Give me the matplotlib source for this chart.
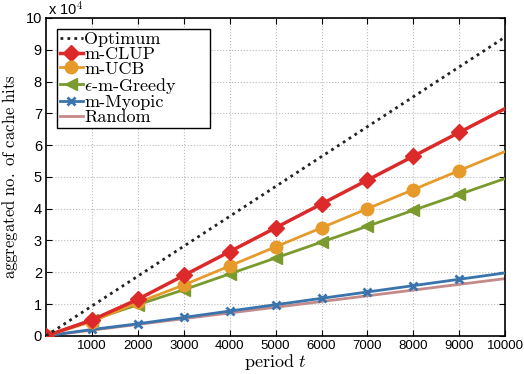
import numpy as np
import matplotlib
matplotlib.use("Agg")
import matplotlib.pyplot as plt

plt.rcParams['mathtext.fontset'] = 'cm'
plt.rcParams['font.family'] = ['Liberation Sans', 'DejaVu Sans']

period = [0, 1000, 2000, 3000, 4000, 5000, 6000, 7000, 8000, 9000, 10000]
optimum = [0, 0.94, 1.88, 2.82, 3.76, 4.70, 5.64, 6.58, 7.52, 8.46, 9.40]
clup = [0, 0.50, 1.15, 1.90, 2.65, 3.40, 4.15, 4.90, 5.65, 6.40, 7.15]
ucb = [0, 0.45, 1.05, 1.60, 2.20, 2.80, 3.40, 4.00, 4.60, 5.20, 5.80]
greedy = [0, 0.50, 0.98, 1.45, 1.95, 2.45, 2.95, 3.45, 3.95, 4.45, 4.95]
myopic = [0, 0.20, 0.38, 0.58, 0.78, 0.98, 1.18, 1.38, 1.58, 1.78, 1.98]
rand = [0, 0.18, 0.36, 0.54, 0.72, 0.90, 1.08, 1.26, 1.44, 1.62, 1.80]

fig = plt.figure(figsize=(5.24, 3.74), dpi=100)
ax = fig.add_axes([0.088, 0.102, 0.876, 0.850])

sc = 1e4
x = np.array(period)
mk = slice(0, 10)
ax.plot(x, np.array(rand) * sc, color='#c48a8a', lw=2, label='Random', zorder=2)
ax.plot(x, np.array(myopic) * sc, color='#3a74ad', lw=2, marker='x', ms=6, mew=2,
        markevery=mk, label='m-Myopic', zorder=3)
ax.plot(x, np.array(greedy) * sc, color='#7a9a2e', lw=2, marker='<', ms=9,
        markevery=mk, label=r'$\epsilon$-m-Greedy', zorder=4)
ax.plot(x, np.array(ucb) * sc, color='#e69a2a', lw=2, marker='o', ms=9,
        markevery=mk, label='m-UCB', zorder=5)
ax.plot(x, np.array(clup) * sc, color='#dc2a2a', lw=2.5, marker='D', ms=8,
        markevery=mk, label='m-CLUP', zorder=6)
ax.plot(x, np.array(optimum) * sc, color='#222222', lw=2, ls=(0, (1, 1.5)),
        label='Optimum', zorder=7)

ax.set_xlim(0, 10000)
ax.set_ylim(0, 1e5)
ax.set_xticks(range(1000, 10001, 1000))
ax.set_yticks(np.arange(0, 1.01e5, 1e4))
ax.set_yticklabels([str(i) for i in range(11)])
ax.tick_params(direction='in', top=True, right=True, labelsize=9.5, length=4, pad=3)
ax.tick_params(axis='y', labelsize=10.5)
ax.grid(True, ls=':', color='#bbbbbb', lw=0.8)
ax.text(0.005, 1.0, r'x 10$^4$', transform=ax.transAxes, fontsize=10.5, va='bottom')
for s in ax.spines.values():
    s.set_linewidth(1.2)

ax.set_xlabel(r'$\mathrm{period}\ t$', fontsize=13, labelpad=0)
ax.set_ylabel(r'$\mathrm{aggregated\ no.\ of\ cache\ hits}$', fontsize=12, labelpad=4)

h, l = ax.get_legend_handles_labels()
order = [5, 4, 3, 2, 1, 0]
labels = [l[i] for i in order]
labels[3] = labels[3] + '\u00a0\u00a0\u00a0\u00a0\u00a0\u00a0'
leg = ax.legend([h[i] for i in order], labels,
                loc='upper left', fancybox=False, edgecolor='black', framealpha=1,
                handlelength=1.3, handletextpad=0.05, borderpad=0.15, labelspacing=-0.05,
                borderaxespad=0.6, prop={'family': ['cmr10', 'DejaVu Sans'], 'size': 13})
leg.get_frame().set_linewidth(1.0)

plt.savefig('out.png')
